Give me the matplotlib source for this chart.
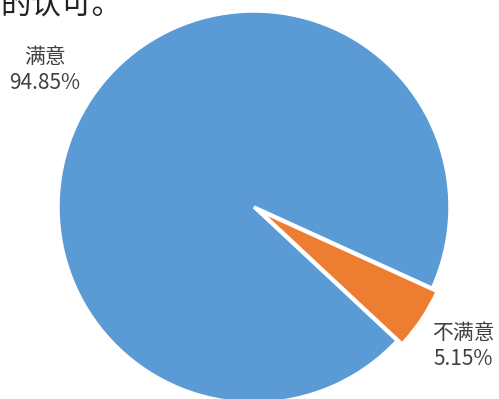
import matplotlib
matplotlib.use('Agg')
import matplotlib.pyplot as plt

plt.rcParams['font.family'] = ['Noto Sans CJK SC', 'DejaVu Sans']

labels = ['满意', '不满意']
values = [94.85, 5.15]
colors = ['#5B9BD5', '#ED7D31']

W, H = 499, 399
cx, cy, R = 254, 207, 196   # pie centre and radius in pixels

fig = plt.figure(figsize=(W/100, H/100), dpi=100)
ax = fig.add_axes([0, 0, 1, 1])

wedges, _ = ax.pie(values, colors=colors, startangle=-24.5, counterclock=True,
                   explode=[0, 0.03], radius=1.0,
                   wedgeprops=dict(edgecolor='white', linewidth=2.5))

ax.set_xlim(-cx/R, (W - cx)/R)
ax.set_ylim(-(H - cy)/R, cy/R)
ax.set_aspect('equal')
ax.axis('off')

def px(x, y):
    return (x - cx)/R, (cy - y)/R

# data labels
lbl_pos = [(45, 70), (463, 346)]
for lab, val, (x, y) in zip(labels, values, lbl_pos):
    ax.text(*px(x, y), '%s\n%.2f%%' % (lab, val), ha='center', va='center',
            fontsize=15, color='#404040', linespacing=1.25)

# cut-off text from the surrounding document
fig.text(0.0, 1 - 14/H, '的认可。', ha='left', va='baseline', fontsize=22,
         color='#222222', fontweight='light')

fig.savefig('out.png', dpi=100)
